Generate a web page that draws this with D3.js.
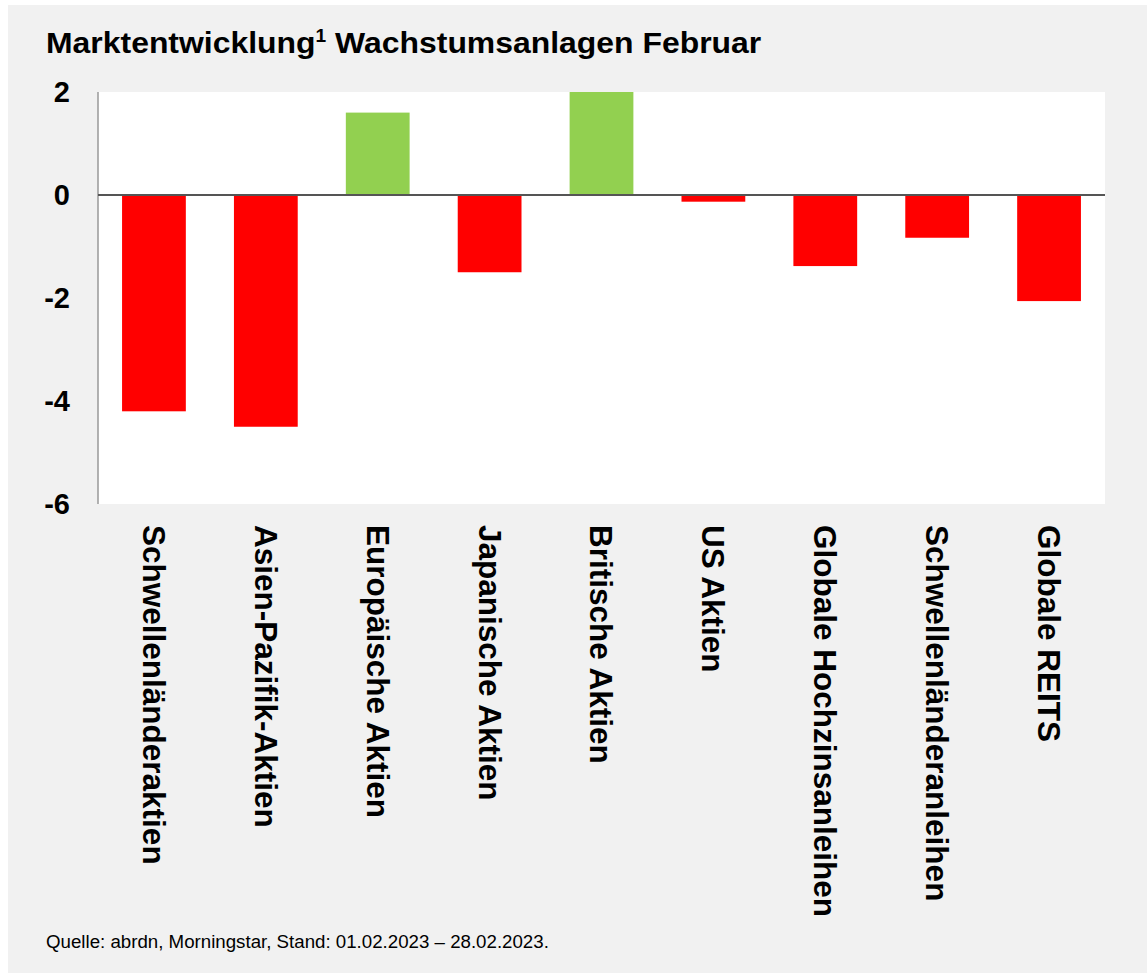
<!DOCTYPE html>
<html>
<head>
<meta charset="utf-8">
<script src="https://cdn.jsdelivr.net/npm/d3@7"></script>
<style>
  body { margin: 0; background: #fff; }
  svg { display: block; font-family: Arial, "Liberation Sans", sans-serif; }
</style>
</head>
<body>
<svg width="1147" height="973"></svg>
<script>
// Marktentwicklung Wachstumsanlagen Februar (in %)
const categories = [
  "Schwellenländeraktien",
  "Asien-Pazifik-Aktien",
  "Europäische Aktien",
  "Japanische Aktien",
  "Britische Aktien",
  "US Aktien",
  "Globale Hochzinsanleihen",
  "Schwellenländeranleihen",
  "Globale REITS"
];
const values = [-4.2, -4.5, 1.6, -1.5, 2.0, -0.13, -1.38, -0.83, -2.06];
const yTicks = [2, 0, -2, -4, -6];

const svg = d3.select("svg");

// grey panel
svg.append("rect")
  .attr("x", 8).attr("y", 5)
  .attr("width", 1139).attr("height", 968)
  .attr("fill", "#f1f1f1");

const plot = { left: 98, right: 1105, top: 92, bottom: 504 };

let x = d3.scaleBand()
  .domain(categories)
  .range([plot.left, plot.right])
  .paddingInner(0.43)
  .paddingOuter(0.215);

let y = d3.scaleLinear()
  .domain([-6, 2])
  .range([plot.bottom, plot.top]);

// white plot area
svg.append("rect")
  .attr("x", plot.left).attr("y", plot.top)
  .attr("width", plot.right - plot.left)
  .attr("height", plot.bottom - plot.top)
  .attr("fill", "#fff");

// bars
svg.append("g")
  .selectAll("rect")
  .data(values)
  .join("rect")
  .attr("x", (d, i) => x(categories[i]))
  .attr("width", x.bandwidth())
  .attr("y", d => y(Math.max(0, d)))
  .attr("height", d => Math.abs(y(d) - y(0)))
  .attr("fill", d => d >= 0 ? "#92d050" : "#ff0000");

// y axis labels (plain hyphen as minus, like the original)
const yAxis = svg.append("g")
  .attr("transform", `translate(${plot.left},0)`)
  .call(d3.axisLeft(y).tickValues(yTicks).tickSize(0).tickPadding(28).tickFormat(d => String(d)));
yAxis.select(".domain").remove();
yAxis.selectAll("text")
  .attr("font-size", 29)
  .attr("font-weight", "bold")
  .attr("font-family", "Arial, 'Liberation Sans', sans-serif")
  .attr("fill", "#000");

// y axis line
svg.append("line")
  .attr("x1", plot.left).attr("x2", plot.left)
  .attr("y1", plot.top).attr("y2", plot.bottom)
  .attr("stroke", "#999").attr("stroke-width", 1.5);

// zero line
svg.append("line")
  .attr("x1", plot.left).attr("x2", plot.right)
  .attr("y1", y(0)).attr("y2", y(0))
  .attr("stroke", "#555").attr("stroke-width", 2);

// category labels, rotated
svg.append("g")
  .selectAll("text")
  .data(categories)
  .join("text")
  .attr("transform", d => `translate(${x(d) + x.bandwidth() / 2},525) rotate(90)`)
  .attr("dy", "0.35em")
  .attr("font-size", 31.5)
  .attr("font-weight", "bold")
  .attr("fill", "#000")
  .text(d => d);

// title (original is a bit wider than tall, so stretch slightly)
const title = svg.append("text")
  .attr("transform", "translate(46,53) scale(1.064,1)")
  .attr("font-size", 30)
  .attr("font-weight", "bold")
  .attr("fill", "#000");
title.append("tspan").text("Marktentwicklung");
title.append("tspan").attr("font-size", 18).attr("dy", -11).text("1");
title.append("tspan").attr("dy", 11).text(" Wachstumsanlagen Februar");

// footer
svg.append("text")
  .attr("x", 46).attr("y", 948)
  .attr("font-size", 18.7)
  .attr("fill", "#000")
  .text("Quelle: abrdn, Morningstar, Stand: 01.02.2023 – 28.02.2023.");
</script>
</body>
</html>
